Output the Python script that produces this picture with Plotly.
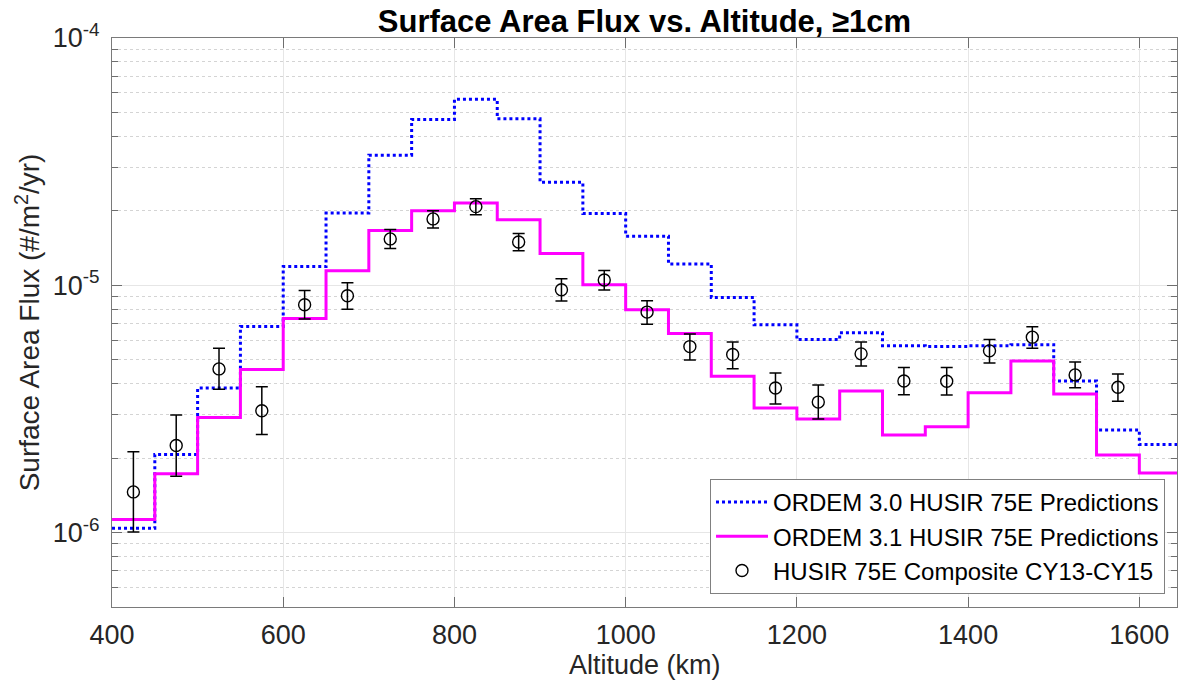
import numpy as np
import plotly.graph_objects as go

# ---- data ----
bin_edges = list(range(400, 1651, 50))  # 400..1650
ordem30 = [1.04e-6, 2.07e-6, 3.84e-6, 6.81e-6, 1.19e-5, 1.96e-5, 3.36e-5, 4.68e-5, 5.65e-5,
           4.71e-5, 2.61e-5, 1.95e-5, 1.58e-5, 1.22e-5, 8.93e-6, 6.92e-6, 6.03e-6, 6.42e-6,
           5.69e-6, 5.65e-6, 5.69e-6, 5.75e-6, 4.10e-6, 2.60e-6, 2.27e-6]
ordem31 = [1.13e-6, 1.73e-6, 2.92e-6, 4.57e-6, 7.34e-6, 1.145e-5, 1.667e-5, 2.0e-5, 2.15e-5,
           1.84e-5, 1.345e-5, 1.005e-5, 7.96e-6, 6.38e-6, 4.29e-6, 3.19e-6, 2.88e-6, 3.74e-6,
           2.48e-6, 2.68e-6, 3.68e-6, 4.94e-6, 3.63e-6, 2.06e-6, 1.74e-6]
husir_alt = list(range(425, 1576, 50))
husir_flux = [1.46e-6, 2.25e-6, 4.59e-6, 3.11e-6, 8.34e-6, 9.07e-6, 1.54e-5, 1.855e-5, 2.08e-5,
              1.496e-5, 9.59e-6, 1.05e-5, 7.79e-6, 5.65e-6, 5.25e-6, 3.84e-6, 3.37e-6, 5.28e-6,
              4.10e-6, 4.09e-6, 5.43e-6, 6.17e-6, 4.34e-6, 3.87e-6]
husir_upper = [2.12e-6, 2.99e-6, 5.57e-6, 3.89e-6, 9.52e-6, 1.023e-5, 1.68e-5, 2.0e-5, 2.24e-5,
               1.62e-5, 1.062e-5, 1.148e-5, 8.65e-6, 6.36e-6, 5.90e-6, 4.42e-6, 3.95e-6, 5.90e-6,
               4.65e-6, 4.65e-6, 6.03e-6, 6.79e-6, 4.89e-6, 4.38e-6]
husir_lower = [1.005e-6, 1.69e-6, 3.80e-6, 2.49e-6, 7.31e-6, 8.0e-6, 1.41e-5, 1.706e-5, 1.93e-5,
               1.38e-5, 8.63e-6, 9.56e-6, 6.96e-6, 4.99e-6, 4.60e-6, 3.31e-6, 2.88e-6, 4.72e-6,
               3.61e-6, 3.60e-6, 4.85e-6, 5.57e-6, 3.85e-6, 3.40e-6]
x_ticks = [400, 600, 800, 1000, 1200, 1400, 1600]
y_ticks = [1e-6, 1e-5, 1e-4]
y_ticktext = ["10<sup>-6</sup>", "10<sup>-5</sup>", "10<sup>-4</sup>"]

FONT = "Liberation Sans, Arial, Helvetica, sans-serif"
TXT = "#262626"

fig = go.Figure()

fig.add_trace(go.Scatter(
    x=bin_edges, y=ordem30 + [ordem30[-1]], mode="lines", line_shape="hv",
    line=dict(color="#0000ff", width=3, dash="dot"),
    name="ORDEM 3.0 HUSIR 75E Predictions"))
fig.add_trace(go.Scatter(
    x=bin_edges, y=ordem31 + [ordem31[-1]], mode="lines", line_shape="hv",
    line=dict(color="#ff00ff", width=3),
    name="ORDEM 3.1 HUSIR 75E Predictions"))

flux = np.array(husir_flux)
fig.add_trace(go.Scatter(
    x=husir_alt, y=husir_flux, mode="markers",
    marker=dict(symbol="circle-open", size=12, color="black", line=dict(width=1.4, color="black")),
    error_y=dict(type="data", symmetric=False,
                 array=(np.array(husir_upper) - flux).tolist(),
                 arrayminus=(flux - np.array(husir_lower)).tolist(),
                 color="black", thickness=1.5, width=6),
    name="HUSIR 75E Composite CY13-CY15"))

minor_y = [m * 10.0 ** e for e in (-7, -6, -5) for m in range(2, 10) if 5e-7 <= m * 10.0 ** e < 1e-4]

fig.update_layout(
    width=1180, height=692,
    margin=dict(l=112, r=3, t=38, b=85),
    paper_bgcolor="white", plot_bgcolor="white",
    font=dict(family=FONT, color=TXT),
    title=dict(text="<b>Surface Area Flux vs. Altitude, ≥1cm</b>",
               x=0.5, xref="paper", xanchor="center",
               y=1 - 21 / 692, yref="container", yanchor="middle",
               font=dict(size=31, color="black", family=FONT)),
    showlegend=True,
    legend=dict(x=(1165 - 112) / 1065, y=(607 - 594) / 569, xanchor="right", yanchor="bottom",
                bgcolor="white", bordercolor="#808080", borderwidth=1,
                font=dict(size=24, color="black", family=FONT),
                itemwidth=52, tracegroupgap=0),
    annotations=[dict(text="Altitude (km)", xref="paper", yref="paper",
                      x=0.5, y=-(665 - 607) / 569, xanchor="center", yanchor="middle",
                      showarrow=False, font=dict(size=27, color=TXT, family=FONT))],
)

fig.update_xaxes(
    type="linear", range=[400, 1644], autorange=False, automargin=False,
    tickmode="array", tickvals=x_ticks,
    ticks="inside", ticklen=10, tickcolor="#6e6e6e", tickwidth=1,
    tickfont=dict(size=27, color=TXT, family=FONT), ticklabelstandoff=3,
    showline=True, linecolor="#7a7a7a", linewidth=1.2, mirror="ticks",
    showgrid=True, gridcolor="#e6e6e6", gridwidth=1.2, zeroline=False,
)

fig.update_yaxes(
    type="log", range=[np.log10(5e-7), -4], autorange=False, automargin=False,
    tickmode="array", tickvals=y_ticks, ticktext=y_ticktext,
    ticks="inside", ticklen=10, tickcolor="#6e6e6e", tickwidth=1,
    tickfont=dict(size=27, color=TXT, family=FONT), ticklabelstandoff=6,
    showline=True, linecolor="#7a7a7a", linewidth=1.2, mirror="ticks",
    showgrid=True, gridcolor="#e6e6e6", gridwidth=1.2, zeroline=False,
    minor=dict(tickmode="array", tickvals=minor_y, ticks="inside", ticklen=6,
               tickcolor="#6e6e6e", showgrid=True, gridcolor="#d4d4d4",
               griddash="dot", gridwidth=1),
    title=dict(text="Surface Area Flux (#/m<sup>2</sup>/yr)",
               font=dict(size=28, color=TXT, family=FONT), standoff=4),
)

fig.write_html("out.html")
